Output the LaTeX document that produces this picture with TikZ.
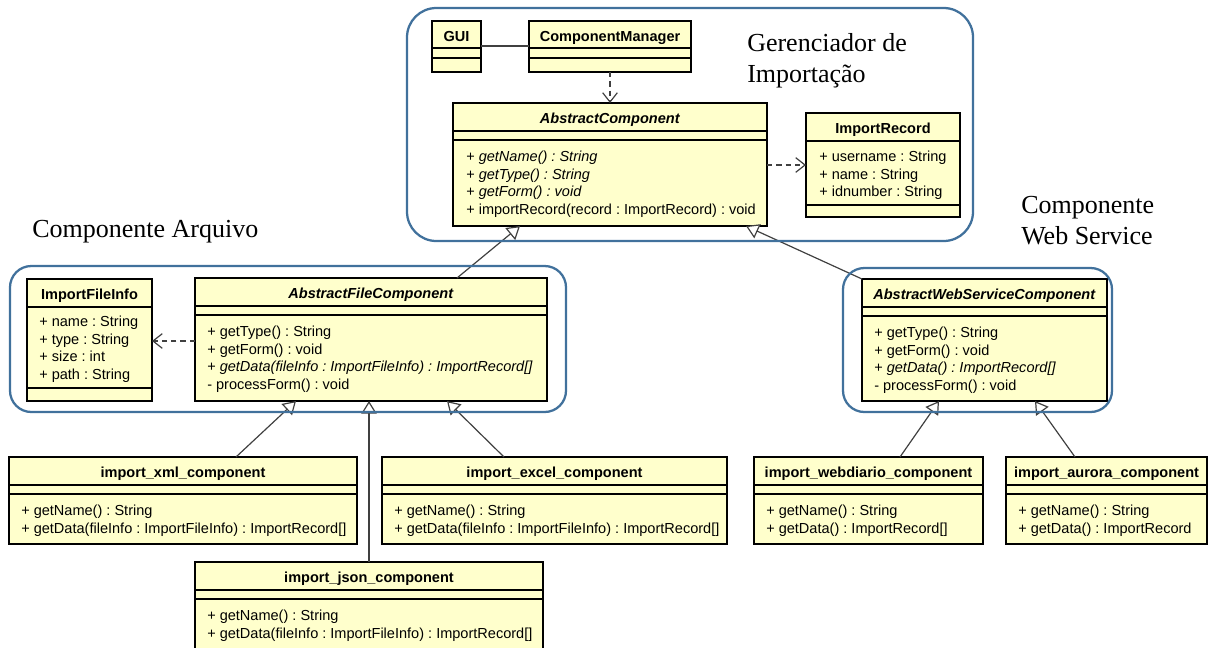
\documentclass[tikz,border=0pt]{standalone}
\usepackage{fontspec}
\setmainfont{Liberation Serif}
\setsansfont{Liberation Sans}
\usepackage{tikz}
\usetikzlibrary{calc,arrows.meta}
\frenchspacing

\definecolor{umlyellow}{HTML}{FFFFCC}
\definecolor{groupblue}{HTML}{41719C}
\definecolor{linegray}{HTML}{404040}

\tikzset{
  classbox/.style={draw=black, line width=1.7pt, fill=umlyellow, rectangle, anchor=north west, inner sep=0pt, outer sep=0pt},
  sepline/.style={draw=black, line width=0.9pt},
  clsname/.style={anchor=base, inner sep=0pt, font=\sffamily\bfseries\fontsize{10.9}{13.3}\selectfont},
  clsbody/.style={anchor=north west, inner sep=0pt, align=left, font=\sffamily\fontsize{10.9}{13.3}\selectfont},
  grouplabel/.style={anchor=north west, inner sep=0pt, align=left, font=\fontsize{19.5}{23.25}\selectfont},
  group/.style={draw=groupblue, line width=1.7pt},
  assoc/.style={draw=linegray, line width=0.9pt},
  depend/.style={draw=linegray, line width=0.9pt, dash pattern=on 4pt off 3pt, -{Straight Barb[length=7pt,width=11pt]}},
  inherit/.style={draw=linegray, line width=0.9pt, -{Triangle[length=9.5pt,width=11.5pt,fill=white]}}
}

% box, two compartment lines and the class name
\def\umlclass(#1)(#2,#3)(#4:#5:#6:#7)#8{%
  \node[classbox, minimum width=#4*0.75pt, minimum height=#5*0.75pt] (#1) at (#2,#3) {};
  \draw[sepline] ($(#1.north west)+(0,#6)$) -- ($(#1.north east)+(0,#6)$);
  \draw[sepline] ($(#1.north west)+(0,#7)$) -- ($(#1.north east)+(0,#7)$);
  \node[clsname] (#1-name) at ($(#1.north)+(0,20)$) {#8};}

\begin{document}
\begin{tikzpicture}[x=0.75pt, y=-0.75pt]
			%%%%% START %%%%%
			\useasboundingbox (0,0) rectangle (1210,647);
			
			\umlclass(gui)(432,21)(49:51:27:37){GUI}
			\umlclass(cm)(529,21)(162:51:27:37){ComponentManager}
			
			\umlclass(ac)(453,103)(314:123:28:37){\textit{AbstractComponent}}
			\node[clsbody] (ac-ops) at ($(ac.north west)+(13,47.5)$) {+ \textit{getName() : String}\\+ \textit{getType() : String}\\+ \textit{getForm() : void}\\+ importRecord(record : ImportRecord) : void};
			
			\umlclass(ir)(806,113)(154:104:28:92){ImportRecord}
			\node[clsbody] (ir-attr) at ($(ir.north west)+(13,37.5)$) {+ username : String\\+ name : String\\+ idnumber : String};
			
			\umlclass(ifi)(27,279)(125:122:28:109){ImportFileInfo}
			\node[clsbody] (ifi-attr) at ($(ifi.north west)+(12,36.5)$) {+ name : String\\+ type : String\\+ size : int\\+ path : String};
			
			\umlclass(afc)(195,278)(352:123:28:37){\textit{AbstractFileComponent}}
			\node[clsbody] (afc-ops) at ($(afc.north west)+(12,47.5)$) {+ getType() : String\\+ getForm() : void\\+ \textit{getData(fileInfo : ImportFileInfo) : ImportRecord[]}\\- processForm() : void};
			
			\umlclass(awsc)(862,279)(245:122:28:37){\textit{AbstractWebServiceComponent}}
			\node[clsbody] (awsc-ops) at ($(awsc.north west)+(12,47.5)$) {+ getType() : String\\+ getForm() : void\\+ \textit{getData() : ImportRecord[]}\\- processForm() : void};
			
			\umlclass(xml)(9,457)(348:87:28:37){import\_xml\_component}
			\node[clsbody] (xml-ops) at ($(xml.north west)+(12,47.5)$) {+ getName() : String\\+ getData(fileInfo : ImportFileInfo) : ImportRecord[]};
			
			\umlclass(excel)(382,457)(345:87:28:37){import\_excel\_component}
			\node[clsbody] (excel-ops) at ($(excel.north west)+(12,47.5)$) {+ getName() : String\\+ getData(fileInfo : ImportFileInfo) : ImportRecord[]};
			
			\umlclass(json)(195,562)(348:87:28:37){import\_json\_component}
			\node[clsbody] (json-ops) at ($(json.north west)+(12,47.5)$) {+ getName() : String\\+ getData(fileInfo : ImportFileInfo) : ImportRecord[]};
			
			\umlclass(wd)(754,457)(229:87:28:37){import\_webdiario\_component}
			\node[clsbody] (wd-ops) at ($(wd.north west)+(12,47.5)$) {+ getName() : String\\+ getData() : ImportRecord[]};
			
			\umlclass(aurora)(1006,457)(201:87:28:37){import\_aurora\_component}
			\node[clsbody] (aurora-ops) at ($(aurora.north west)+(12,47.5)$) {+ getName() : String\\+ getData() : ImportRecord};
			
			% connectors
			\draw[assoc] ($(gui.north east)+(0,25)$) -- ($(cm.north west)+(0,25)$);
			\draw[depend] (cm.south) -- (ac.north);
			\draw[depend] ($(ac.north east)+(0,62)$) -- ($(ir.north west)+(0,52)$);
			\draw[depend] ($(afc.north west)+(0,63)$) -- ($(ifi.north east)+(0,62)$);
			
			\draw[inherit] ($(afc.north west)+(262,0)$) -- ($(ac.south west)+(67,0)$);
			\draw[inherit] (awsc.north west) -- ($(ac.south west)+(293,0)$);
			\draw[inherit] ($(xml.north west)+(227,0)$) -- ($(afc.south west)+(101,0)$);
			\draw[inherit] (json.north) -- (json.north |- afc.south);
			\draw[inherit] ($(excel.north west)+(122,0)$) -- ($(afc.south west)+(252,0)$);
			\draw[inherit] ($(wd.north west)+(146,0)$) -- ($(awsc.south west)+(77,0)$);
			\draw[inherit] ($(aurora.north west)+(69,0)$) -- ($(awsc.south west)+(173,0)$);
			
			% groups
			\draw[group, rounded corners=22pt] (407,8) rectangle (973,241);
			\draw[group, rounded corners=16pt] (10,266) rectangle (566,412);
			\draw[group, rounded corners=16pt] (843,268) rectangle (1112,412);
			
			\node[grouplabel] (lbl-mgr) at (747,33) {Gerenciador de\\Importação};
			\node[grouplabel] (lbl-file) at (32,220) {Componente Arquivo};
			\node[grouplabel] (lbl-ws) at (1021,196) {Componente\\Web Service};
			%%%%% END %%%%%
\end{tikzpicture}
\end{document}
